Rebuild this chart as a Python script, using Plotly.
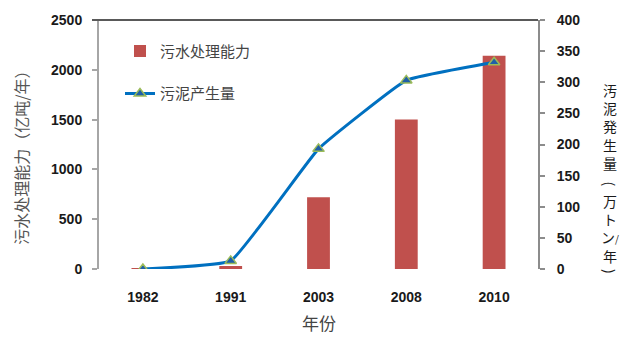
import plotly.graph_objects as go

# Data
years = ["1982", "1991", "2003", "2008", "2010"]
treatment_capacity = [10, 30, 720, 1500, 2140]      # 亿吨/年 (left axis)
sludge_output = [0, 13, 193, 303, 332]              # 万トン/年 (right axis)

W, H = 622, 343
L, R, T, B = 99, 84, 16, 74
plot_h = H - T - B


def py(ypx):
    """Pixel row -> paper y coordinate."""
    return (H - B - ypx) / plot_h


def px(xpx):
    """Pixel column -> paper x coordinate."""
    return (xpx - L) / (W - L - R)


fig = go.Figure()

fig.add_trace(go.Bar(
    x=years, y=treatment_capacity, name="污水处理能力",
    marker=dict(color="#C0504D", line=dict(width=0)),
    width=0.26, yaxis="y", legendgroup="a",
))

fig.add_trace(go.Scatter(
    x=years, y=sludge_output, name="污泥产生量",
    mode="lines+markers",
    line=dict(color="#0070C0", width=3, shape="spline", smoothing=0.3),
    marker=dict(symbol="triangle-up", size=10, color="#1F5FA8",
                line=dict(color="#9BBB59", width=1.5)),
    yaxis="y2", legendgroup="b",
))

axis_font = dict(family="Liberation Sans", size=14, color="#1a1a1a", weight="bold")

fig.update_layout(
    width=W, height=H,
    margin=dict(l=L, r=R, t=T, b=B),
    paper_bgcolor="white", plot_bgcolor="white",
    showlegend=True,
    legend=dict(
        x=px(120), y=py(31), xanchor="left", yanchor="top",
        bgcolor="rgba(0,0,0,0)",
        font=dict(family="Noto Sans CJK SC", size=15, color="#444444"),
        tracegroupgap=20, itemwidth=30,
    ),
    xaxis=dict(
        type="category", showline=False, ticks="", showgrid=False,
        tickfont=axis_font, zeroline=False, ticklabelstandoff=18,
    ),
    yaxis=dict(
        range=[0, 2500], dtick=500, showgrid=False, zeroline=False,
        showline=True, linecolor="#A6A6A6", linewidth=2,
        ticks="outside", ticklen=5, tickcolor="#A6A6A6", tickwidth=1.5,
        tickfont=axis_font, ticklabelstandoff=7,
    ),
    yaxis2=dict(
        range=[0, 400], dtick=50, overlaying="y", side="right",
        showgrid=False, zeroline=False,
        showline=True, linecolor="#8C8C8C", linewidth=2,
        ticks="outside", ticklen=5, tickcolor="#8C8C8C", tickwidth=1.5,
        tickfont=axis_font, ticklabelstandoff=9,
    ),
)

# Top frame line
fig.add_shape(type="line", xref="paper", yref="paper",
              x0=px(92), x1=1, y0=1, y1=1,
              line=dict(color="#595959", width=2))

# Left axis title
fig.add_annotation(
    text="污水处理能力（亿吨/年）", textangle=-90,
    xref="paper", yref="paper", x=px(21), y=py(152),
    showarrow=False, xanchor="center", yanchor="middle",
    font=dict(family="Noto Sans CJK SC", size=16, color="#555555"),
)

# X axis title
fig.add_annotation(
    text="年份", xref="paper", yref="paper", x=px(319), y=py(323),
    showarrow=False, xanchor="center", yanchor="middle",
    font=dict(family="Noto Sans CJK SC", size=17, color="#444444"),
)

# Right axis title, stacked vertically: two glyph columns plus
# rotated brackets between them
title_font = dict(family="Noto Sans CJK JP", size=14, color="#1a1a1a")
row = 14 * 1.3
stacks = [(["汚", "泥", "発", "生", "量"], 88),
          (["万", "ト", "ン<span style='font-size:10px'>/</span>", "年"], 201)]
for glyphs, first in stacks:
    centre = first + (len(glyphs) - 1) * row / 2
    fig.add_annotation(
        text="<br>".join(glyphs), xref="paper", yref="paper",
        x=px(610), y=py(centre), align="center",
        showarrow=False, xanchor="center", yanchor="middle",
        font=title_font,
    )
for br, ypix in [("(", 182), (")", 271)]:
    fig.add_annotation(
        text=br, textangle=90, xref="paper", yref="paper",
        x=px(610), y=py(ypix),
        showarrow=False, xanchor="center", yanchor="middle",
        font=title_font,
    )

fig.write_html("out.html")
